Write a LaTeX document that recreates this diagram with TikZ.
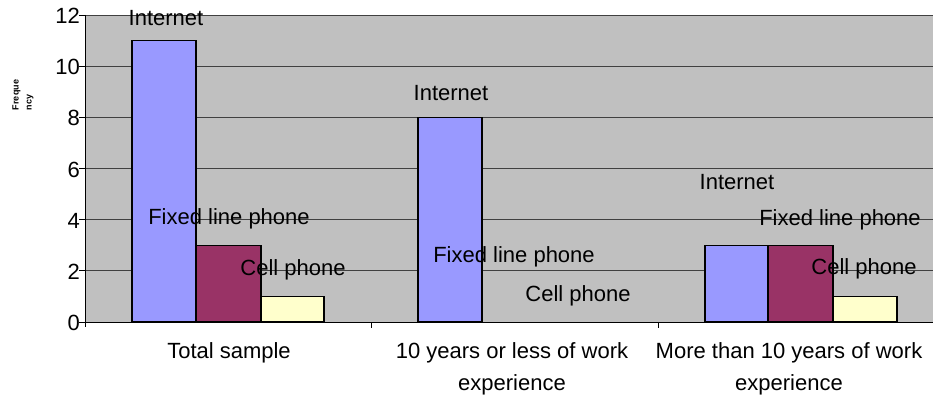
\documentclass[tikz,border=0pt]{standalone}
\usepackage{fontspec}
\setmainfont{Liberation Sans}
\begin{document}
\begin{tikzpicture}[x=1pt,y=-1pt,
  lbl/.style={inner sep=0pt,font=\fontsize{22}{32}\selectfont},
  bar/.style={draw=black,line width=1.5pt},
  grid/.style={draw=black!75,line width=1pt},
  axis/.style={draw=black,line width=1pt}]
\definecolor{plotbg}{HTML}{C0C0C0}
\definecolor{inet}{HTML}{9999FF}
\definecolor{fixed}{HTML}{993366}
\definecolor{cell}{HTML}{FFFFCC}
\useasboundingbox (0,0) rectangle (933,395);
% value v sits at y = 322 - 25.58 v
% plot background
\fill[plotbg] (86,15) rectangle (933,322);
% gridlines and y ticks
\foreach \v in {2,4,...,12} {
  \draw[grid] (86,{322-25.58*\v}) -- (933,{322-25.58*\v});
  \draw[axis] (79,{322-25.58*\v}) -- (86,{322-25.58*\v});
}
\draw[axis] (79,322) -- (86,322);
\foreach \v in {0,2,...,12}
  \node[lbl,anchor=east] (t\v) at (80,{323-25.58*\v}) {\v};
% bars: Total sample
\filldraw[bar,fill=inet]  (132,322) rectangle (196,{322-25.58*11});
\filldraw[bar,fill=fixed] (196,322) rectangle (261,{322-25.58*3});
\filldraw[bar,fill=cell]  (261,322) rectangle (324,{322-25.58*1});
% bars: 10 years or less
\filldraw[bar,fill=inet]  (418,322) rectangle (482,{322-25.58*8});
% bars: more than 10 years
\filldraw[bar,fill=inet]  (705,322) rectangle (768,{322-25.58*3});
\filldraw[bar,fill=fixed] (768,322) rectangle (833,{322-25.58*3});
\filldraw[bar,fill=cell]  (833,322) rectangle (897,{322-25.58*1});
% axes
\draw[axis] (85.5,15) -- (85.5,327);
\draw[axis] (85,322) -- (933,322);
\draw[axis] (371,322) -- (371,328);
\draw[axis] (658,322) -- (658,328);
% data labels
\node[lbl] (i1) at (166,18) {Internet};
\node[lbl] (f1) at (229,219) {Fixed line phone};
\node[lbl] (c1) at (293,270) {Cell phone};
\node[lbl] (i2) at (451,93) {Internet};
\node[lbl] (f2) at (514,257) {Fixed line phone};
\node[lbl] (c2) at (578,296) {Cell phone};
\node[lbl] (i3) at (737,182) {Internet};
\node[lbl] (f3) at (840,220) {Fixed line phone};
\node[lbl] (c3) at (864,269) {Cell phone};
% category labels
\node[lbl,align=center,anchor=north] (k1) at (229,342) {Total sample};
\node[lbl,align=center,anchor=north] (k2) at (512,342) {10 years or less of work\\experience};
\node[lbl,align=center,anchor=north] (k3) at (789,342) {More than 10 years of work\\experience};
% axis title
\node[inner sep=0pt,rotate=90,align=left,font=\fontsize{9}{13}\selectfont\bfseries] (yt) at (23,95) {Freque\\ncy};
\end{tikzpicture}
\end{document}
